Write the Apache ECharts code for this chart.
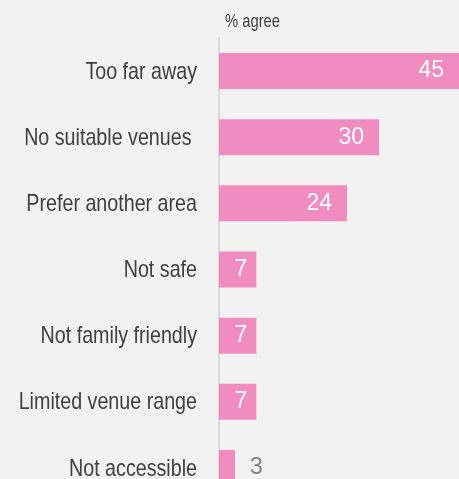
<!DOCTYPE html>
<html>
<head>
<meta charset="utf-8">
<script src="https://cdn.jsdelivr.net/npm/echarts@6/dist/echarts.min.js"></script>
<style>
html,body{margin:0;padding:0;background:#f2f2f2;overflow:hidden;}
#chart{width:459px;height:501px;}
</style>
</head>
<body>
<div id="chart"></div>
<script>
var categories = ["Too far away", "No suitable venues ", "Prefer another area", "Not safe", "Not family friendly", "Limited venue range", "Not accessible"];
var values = [45, 30, 24, 7, 7, 7, 3];
var axisTitle = "% agree";

var FONT = "'Liberation Sans', Arial, sans-serif";
var NARROW = 0.82;
var chart = echarts.init(document.getElementById('chart'), null, {renderer: 'canvas'});
chart.setOption({
  backgroundColor: '#f2f2f2',
  animation: false,
  grid: {left: 219, right: 0, top: 38, bottom: 0, containLabel: false, outerBoundsMode: 'none'},
  xAxis: {type: 'value', min: 0, max: 45, show: false},
  yAxis: {
    type: 'category',
    data: categories,
    inverse: true,
    axisLine: {show: true, lineStyle: {color: '#d9d9d9', width: 2}},
    axisTick: {show: false},
    splitLine: {show: false},
    axisLabel: {show: false}
  },
  series: [{
    type: 'bar',
    data: values.map(function (v) {
      if (v < 5) return {value: v, label: {position: 'right', distance: 15, color: '#808080'}};
      if (v < 10) return {value: v, label: {distance: 9}};
      return v;
    }),
    barWidth: 36,
    itemStyle: {color: '#f18cc0'},
    label: {
      show: true,
      position: 'insideRight',
      distance: 15,
      fontFamily: FONT,
      fontSize: 23,
      color: '#ffffff'
    }
  }]
});

// Category labels and axis title drawn as condensed text (narrow font not installed)
var x0 = chart.convertToPixel({xAxisIndex: 0}, 0);
var els = categories.map(function (c, i) {
  var y = chart.convertToPixel({yAxisIndex: 0}, i);
  return {
    type: 'text', x: x0 - 22, y: y + 1, scaleX: NARROW,
    style: {text: c, font: '24px ' + FONT, fill: '#404040', align: 'right', verticalAlign: 'middle'}
  };
});
els.push({
  type: 'text', x: x0 + 6, y: 22, scaleX: NARROW,
  style: {text: axisTitle, font: '18px ' + FONT, fill: '#404040', align: 'left', verticalAlign: 'middle'}
});
chart.setOption({graphic: {elements: els}});
</script>
</body>
</html>
